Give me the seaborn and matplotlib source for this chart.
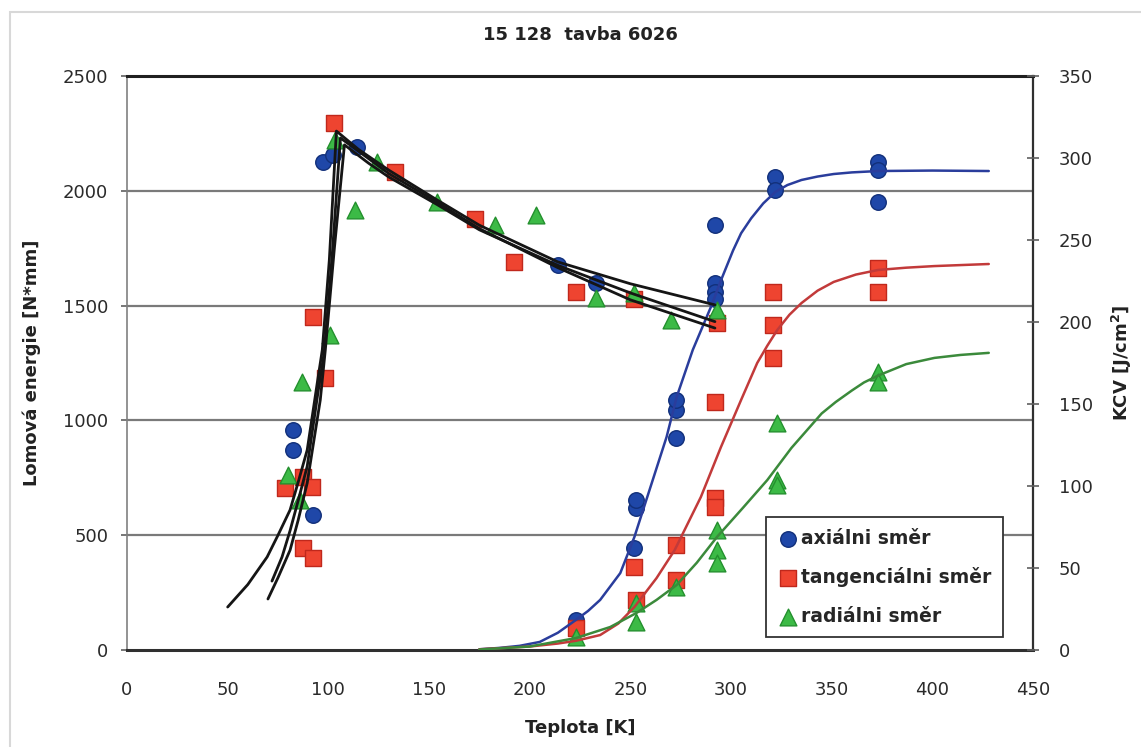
import numpy as np
import pandas as pd
import seaborn as sns
from matplotlib import pyplot as plt
from matplotlib.patches import Rectangle

# --- namerene body (lomova energie [N*mm]) ---
ax_T = [82.5, 82.5, 92.5, 97.5, 102.5, 114, 214, 233,
        223, 251.6, 252.6, 252.6, 272.5, 272.5, 272.5, 292, 292, 292, 292,
        322, 322, 373, 373, 373]
ax_E = [958, 871, 588, 2125, 2156, 2190, 1677, 1598,
        131, 444, 618, 653, 923, 1045, 1089, 1851, 1598, 1560, 1530,
        2060, 2003, 2125, 2090, 1951]

tg_T = [78.6, 87.5, 92, 87.5, 92.5, 98.5, 92.5, 103, 133, 173, 192, 223, 251.6, 293,
        223, 251.6, 252.6, 272.5, 272.5, 292, 292, 292, 321, 321, 321, 373, 373]
tg_E = [705, 753, 710, 444, 400, 1185, 1450, 2295, 2082, 1875, 1690, 1559, 1530, 1424,
        96, 361, 218, 457, 305, 662, 623, 1080, 1559, 1415, 1272, 1664, 1559]

rad_T = [87, 80, 86, 101, 103.5, 113, 124, 154, 183, 203, 233, 251.6, 270, 293,
         223, 252.6, 252.6, 272.5, 293, 293, 293, 323, 323, 323, 373, 373]
rad_E = [1167, 762, 653, 1372, 2221, 1916, 2125, 1951, 1851, 1895, 1533, 1555, 1437, 1480,
         57, 205, 122, 274, 523, 435, 379, 989, 740, 720, 1211, 1167]

# --- prolozene krivky ---
fit_ax_T = [175, 185, 195, 205, 214, 223, 229, 235, 245, 252, 260, 268, 273, 281, 290,
            295, 301, 305, 310, 316, 322, 328, 335, 343, 351, 360, 373, 400, 428]
fit_ax_E = [3, 9, 18, 35, 75, 131, 170, 218, 335, 492, 710, 928, 1102, 1307, 1494,
            1610, 1740, 1815, 1880, 1945, 1995, 2025, 2047, 2062, 2073, 2080, 2086, 2088, 2086]

fit_tg_T = [175, 200, 214, 223, 235, 244, 252, 263, 272, 285, 295, 305, 313, 318, 323,
            329, 335, 343, 351, 362, 373, 387, 401, 428]
fit_tg_E = [3, 15, 28, 40, 65, 115, 187, 313, 435, 666, 884, 1089, 1250, 1325, 1394,
            1460, 1511, 1565, 1603, 1635, 1655, 1665, 1672, 1681]

fit_rad_T = [175, 200, 223, 240, 253, 263, 273, 283, 293, 306, 318, 330, 338, 345, 352,
             360, 366, 373, 387, 401, 414, 428]
fit_rad_E = [2, 15, 52, 100, 161, 218, 283, 380, 492, 620, 740, 880, 960, 1030, 1080,
             1130, 1165, 1195, 1245, 1272, 1285, 1294]

lom1_T = [50, 60, 69.6, 75, 81, 85, 89.5, 94.5, 97, 100.5, 104, 115, 130, 154, 175, 214, 250, 292]
lom1_E = [187, 285, 405, 500, 610, 730, 871, 1163, 1307, 1700, 2260, 2180, 2090, 1960, 1850,
          1690, 1595, 1503]
lom2_T = [70, 75, 81, 85, 89.5, 96, 98.5, 103, 108, 120, 130, 154, 175, 214, 250, 292]
lom2_E = [222, 315, 435, 565, 727, 1089, 1307, 1750, 2200, 2120, 2060, 1940, 1830, 1675, 1555, 1430]
lom3_T = [72, 77, 81, 85, 89.5, 95, 98, 102, 106, 120, 130, 154, 175, 214, 250, 292]
lom3_E = [300, 405, 520, 650, 800, 1130, 1300, 1730, 2230, 2140, 2075, 1950, 1835, 1665, 1525, 1402]

x_ticks = list(range(0, 451, 50))
y_ticks = list(range(0, 2501, 500))
kcv_ticks = list(range(0, 351, 50))

sns.set_theme(style="white")
plt.rcParams['font.family'] = ['DejaVu Sans']

fig = plt.figure(figsize=(11.41, 7.47), dpi=100)
ax = fig.add_axes([0.1113, 0.1299, 0.7941, 0.7684])
fig.patches.append(Rectangle((10 / 1141, -0.01), 1.0, 1 - 12 / 747 + 0.01, transform=fig.transFigure,
                             fill=False, edgecolor='#d8d8d8', linewidth=1.5, zorder=0))

# body
sns.scatterplot(x=ax_T, y=ax_E, ax=ax, marker='o', s=125, color='#1f47a8',
                edgecolor='#12307a', linewidth=1, label='axiálni směr', zorder=3)
sns.scatterplot(x=tg_T, y=tg_E, ax=ax, marker='s', s=125, color='#ee4430',
                edgecolor='#c0281c', linewidth=1, label='tangenciálni směr', zorder=3)
sns.scatterplot(x=rad_T, y=rad_E, ax=ax, marker='^', s=145, color='#3cba46',
                edgecolor='#24902e', linewidth=1, label='radiálni směr', zorder=3)

# krivky
for t, e, c in [(fit_ax_T, fit_ax_E, '#2a3d9c'), (fit_tg_T, fit_tg_E, '#c23a3a'),
                (fit_rad_T, fit_rad_E, '#3b8a3b')]:
    sns.lineplot(x=t, y=e, ax=ax, sort=False, estimator=None, color=c, linewidth=1.8,
                 legend=False, zorder=4)
for t, e in [(lom1_T, lom1_E), (lom2_T, lom2_E), (lom3_T, lom3_E)]:
    sns.lineplot(x=t, y=e, ax=ax, sort=False, estimator=None, color='#151515', linewidth=2.0,
                 legend=False, zorder=4)

ax.set_xlim(0, 450)
ax.set_ylim(0, 2500)
ax.set_xticks(x_ticks)
ax.set_yticks(y_ticks)
for yy in y_ticks[1:-1]:
    ax.axhline(yy, color='#7a7a7a', linewidth=1.6, zorder=1)

ax.spines['left'].set_color('#808080')
ax.spines['left'].set_linewidth(1.2)
ax.spines['top'].set_color('#202020')
ax.spines['top'].set_linewidth(2.2)
ax.spines['bottom'].set_color('#303030')
ax.spines['bottom'].set_linewidth(2.2)
ax.spines['right'].set_color('#303030')
ax.spines['right'].set_linewidth(1.6)
ax.tick_params(axis='both', which='major', direction='inout', length=9, width=1.2,
               colors='#606060', labelcolor='#2a2a2a', labelsize=13)
ax.tick_params(axis='x', pad=18)
ax.tick_params(axis='y', pad=9)

ax.set_xlabel('Teplota [K]', fontsize=13, fontweight='bold', color='#222222', labelpad=14)
ax.set_ylabel('Lomová energie [N*mm]', fontsize=13, fontweight='bold', color='#222222', labelpad=16)
ax.set_title('15 128  tavba 6026', fontsize=13, fontweight='bold', color='#222222', pad=26)

ax2 = ax.twinx()
ax2.set_ylim(0, 350)
ax2.set_yticks(kcv_ticks)
ax2.tick_params(axis='y', direction='inout', length=9, width=1.2, colors='#606060',
                labelcolor='#2a2a2a', labelsize=13, pad=14)
ax2.set_ylabel('KCV [J/cm$^\\mathbf{2}$]', fontsize=13, fontweight='bold', color='#222222', labelpad=12)
for s in ax2.spines.values():
    s.set_visible(False)

leg = ax.legend(loc='lower left', bbox_to_anchor=(0.705, 0.022), borderaxespad=0,
                fancybox=False, frameon=True,
                edgecolor='#333333', framealpha=1, handletextpad=0.1, handlelength=1.2,
                labelspacing=1.05, borderpad=0.6, prop={'size': 13.5, 'weight': 'bold'})
leg.get_frame().set_linewidth(1.3)

fig.savefig('out.png', dpi=100)
